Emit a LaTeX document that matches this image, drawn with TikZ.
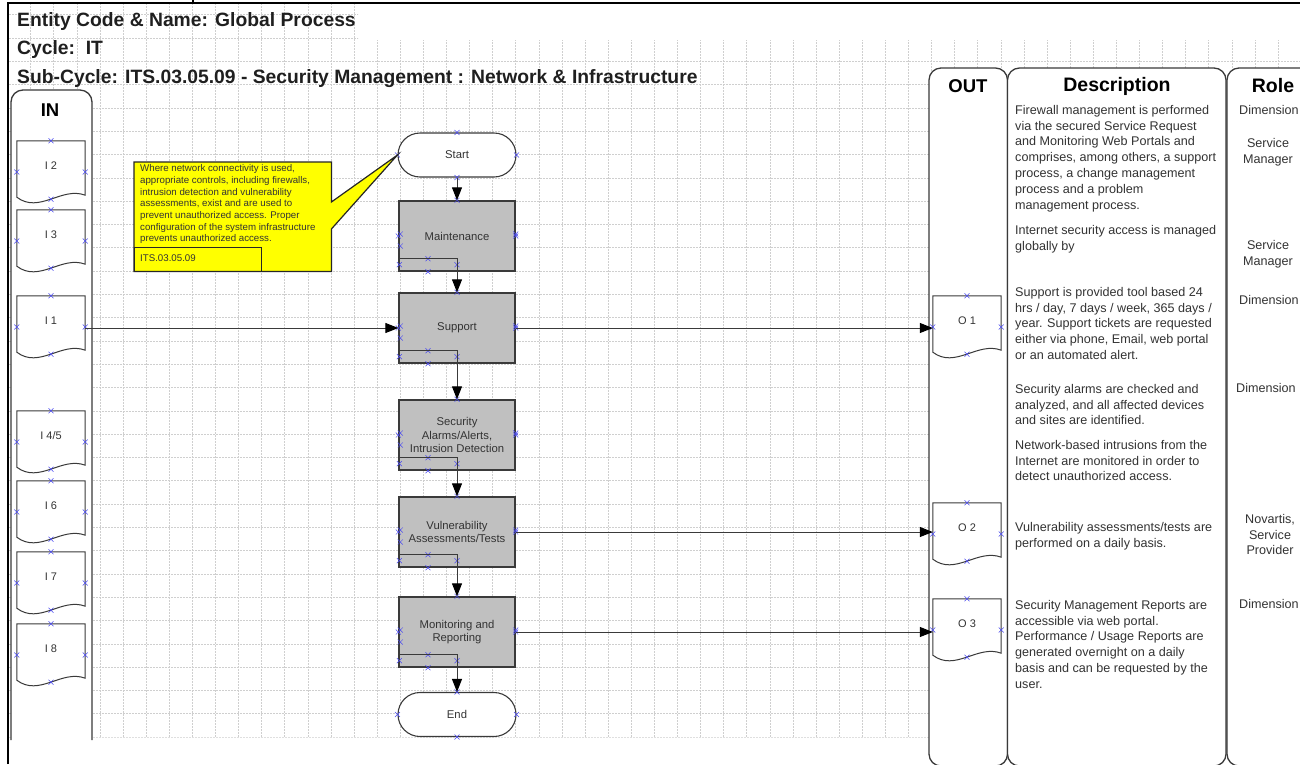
\documentclass[tikz,border=0pt]{standalone}
\usepackage{fontspec}
\setmainfont{Liberation Sans}
\usetikzlibrary{arrows.meta,calc}

\definecolor{txt}{HTML}{333333}
\definecolor{gridc}{HTML}{CFCFCF}
\definecolor{boxgrey}{HTML}{C0C0C0}
\definecolor{marker}{HTML}{4A4AF0}
\definecolor{noteyellow}{HTML}{FFFF00}
\definecolor{edge}{HTML}{3A3A3A}

\newcommand\fs[2]{\fontsize{#1}{#2}\selectfont}

% document shape with a wavy bottom edge: name, left x, top y, label
\newcommand\docshape[4]{%
  \node[docbox] (#1) at (#2+34,#3+28) {};
  \draw[docline] (#1.north west) -- (#1.south west)
    .. controls ($(#1.south west)+(22.4,17)$) and ($(#1.south west)+(44.9,-11)$) ..
    ($(#1.south east)+(0,-2)$) -- (#1.north east) -- cycle;
  \node[doclabel] (#1-lbl) at ($(#1.north)+(0,25)$) {#4};
  \path (#1.north) pic{xm} ($(#1.west)+(0,3)$) pic{xm}
        ($(#1.east)+(0,3)$) pic{xm} ($(#1.south)+(0,2)$) pic{xm};
}

% connection points of a process box, and its small corner frame
\newcommand\procmarks[1]{%
  \path (#1.north) pic{xm}
        (#1.west) pic{xm} ($(#1.west)+(2,-2)$) pic{xm} ($(#1.west)+(2,10)$) pic{xm}
        (#1.east) pic{xm} ($(#1.east)+(0,-2)$) pic{xm}
        ($(#1.south west)+(1,-7)$) pic{xm}
        ($(#1.south)+(-29,-13)$) pic{xm} ($(#1.south)+(-29,0)$) pic{xm}
        ($(#1.south)+(0,-7)$) pic{xm};
  \draw[inner] ($(#1.south west)+(0,-13)$) -| (#1.south);
}

\begin{document}
\begin{tikzpicture}[x=1pt,y=-1pt,
  gridline/.style={draw=gridc, line width=0.6pt, dash pattern=on 2pt off 1pt},
  frame/.style={draw=black, line width=1.4pt},
  lane/.style={draw=edge, line width=1.3pt, fill=white, rounded corners=12pt},
  lanehead/.style={font=\fs{18.5}{21}\bfseries, text=black, inner sep=0pt},
  headtext/.style={font=\fs{19.3}{22}\bfseries, text=black!88, anchor=base west, inner sep=0pt},
  docbox/.style={minimum width=68pt, minimum height=56pt, inner sep=0pt, draw=none},
  docline/.style={draw=edge, line width=1pt, fill=white},
  doclabel/.style={font=\fs{11}{13}, text=txt, inner sep=0pt},
  proc/.style={draw=edge, line width=1.3pt, fill=boxgrey, minimum width=116pt,
    minimum height=70pt, inner sep=2pt, align=center, font=\fs{11.3}{13.5}, text=txt},
  term/.style={draw=edge, line width=1.1pt, fill=white, minimum width=118pt,
    minimum height=44pt, rounded corners=22pt, font=\fs{11.3}{13.5}, text=txt},
  conn/.style={draw=edge, line width=1pt, -{Triangle[length=13pt,width=10pt,color=black]}},
  inner/.style={draw=edge, line width=1pt},
  desc/.style={font=\fs{12.6}{15.8}, text=txt, align=left, anchor=north west, inner sep=0pt},
  role/.style={font=\fs{12.6}{15.8}, text=txt, align=center, inner sep=0pt},
  xm/.pic={\draw[marker, line width=0.5pt] (-2.5,-2.5) -- (2.5,2.5) (-2.5,2.5) -- (2.5,-2.5);}
]
\useasboundingbox (0,0) rectangle (1300,764);
\fill[white] (0,0) rectangle (1300,764);

% drawing-page grid
\begin{scope}
  \clip (8,3) -- (358,3) -- (358,40) -- (1300,40) -- (1300,737.5) -- (8,737.5) -- cycle;
  \foreach \i in {0,...,56} {\draw[gridline] ({7.5+23.1*\i},0) -- ++(0,740);}
  \foreach \j in {0,...,32} {\draw[gridline] (0,{737-23.3*\j}) -- ++(1300,0);}
\end{scope}

% page frame
\draw[frame] (8,764) -- (8,3) -- (1300,3);
\draw[frame] (193,0) -- (193,3);

% header
\node[headtext] (entity) at (17,26) {Entity Code \& Name: Global Process};
\node[headtext] (cycle) at (17,54) {Cycle:\ \ IT};
\node[headtext] (subcycle) at (17,83) {Sub-Cycle: ITS.03.05.09 - Security Management : Network \& Infrastructure};

% swim lanes
\draw[lane] (11,740) -- (11,90) -- (92,90) -- (92,740);
\draw[lane] (929,766) -- (929,68) -- (1007.5,68) -- (1007.5,766) -- cycle;
\draw[lane] (1007.5,766) -- (1007.5,68) -- (1226,68) -- (1226,766) -- cycle;
\draw[lane] (1227,766) -- (1227,68) -- (1340,68) -- (1340,766) -- cycle;
\node[lanehead] (inhead) at (50,110) {IN};
\node[lanehead] (outhead) at (968,86) {OUT};
\node[lanehead, font=\fs{19.5}{22}\bfseries] (deschead) at (1117,86) {Description};
\node[lanehead, font=\fs{19.5}{22}\bfseries] (rolehead) at (1273,86) {Role};

% inputs
\docshape{I2}{17}{141}{I 2}
\docshape{I3}{17}{210}{I 3}
\docshape{I1}{17}{296}{I 1}
\docshape{I45}{17}{411}{I 4/5}
\docshape{I6}{17}{481}{I 6}
\docshape{I7}{17}{552}{I 7}
\docshape{I8}{17}{624}{I 8}

% outputs
\docshape{O1}{933}{296}{O 1}
\docshape{O2}{933}{503}{O 2}
\docshape{O3}{933}{599}{O 3}

% process flow
\node[term] (start) at (457,155) {Start};
\node[proc] (maint) at (457,236) {Maintenance};
\node[proc] (sup) at (457,328) {Support};
\node[proc] (sec) at (457,435) {Security\\Alarms/Alerts,\\Intrusion Detection};
\node[proc] (vul) at (457,532) {Vulnerability\\Assessments/Tests};
\node[proc] (mon) at (457,632) {Monitoring and\\Reporting};
\node[term] (end) at (457,714.5) {End};

\path (start.north) pic{xm} (start.west) pic{xm} (start.east) pic{xm} (start.south) pic{xm};
\path (end.north) pic{xm} (end.west) pic{xm} (end.east) pic{xm} (end.south) pic{xm};
\procmarks{maint}
\procmarks{sup}
\procmarks{sec}
\procmarks{vul}
\procmarks{mon}

% control note
\node[draw=none, minimum width=197pt, minimum height=109pt, inner sep=0pt, anchor=north west] (note) at (134,162) {};
\draw[draw=black!85, line width=1.2pt, fill=noteyellow]
  (note.north west) -- (note.north east) -- ($(note.north east)+(0,40)$) -- (start.west)
  -- ($(note.north east)+(0,67)$) -- (note.south east) -- (note.south west) -- cycle;
\node[font=\fs{9.7}{11.7}, text=txt, align=left, anchor=north west, inner sep=0pt] (notetext) at (140,164.5)
  {Where network connectivity is used,\\appropriate controls, including firewalls,\\intrusion detection and vulnerability\\assessments, exist and are used to\\prevent unauthorized access. Proper\\configuration of the system infrastructure\\prevents unauthorized access.};
\node[draw=black!85, line width=1.2pt, minimum width=127pt, minimum height=24pt, inner sep=0pt, anchor=north west] (noteref) at (134,247) {};
\node[font=\fs{9.7}{11.7}, text=txt, anchor=west, inner sep=0pt] (notereftext) at (140,258.5) {ITS.03.05.09};

% connectors
\draw[conn] (start.south) -- (maint.north);
\draw[conn] (maint.south) -- (sup.north);
\draw[conn] (sup.south) -- (sec.north);
\draw[conn] (sec.south) -- (vul.north);
\draw[conn] (vul.south) -- (mon.north);
\draw[conn] (mon.south) -- (end.north);
\draw[conn] (sup.west -| I1.east) -- (sup.west);
\draw[conn] (sup.east) -- (sup.east -| O1.west);
\draw[conn] (vul.east) -- (vul.east -| O2.west);
\draw[conn] (mon.east) -- (mon.east -| O3.west);

% descriptions
\node[desc] (d1) at (1015,105) {Firewall management is performed\\via the secured Service Request\\and Monitoring Web Portals and\\comprises, among others, a support\\process, a change management\\process and a problem\\management process.};
\node[desc] (d2) at (1015,225) {Internet security access is managed\\globally by};
\node[desc] (d3) at (1015,287) {Support is provided tool based 24\\hrs / day, 7 days / week, 365 days /\\year. Support tickets are requested\\either via phone, Email, web portal\\or an automated alert.};
\node[desc] (d4) at (1015,384) {Security alarms are checked and\\analyzed, and all affected devices\\and sites are identified.};
\node[desc] (d5) at (1015,440) {Network-based intrusions from the\\Internet are monitored in order to\\detect unauthorized access.};
\node[desc] (d6) at (1015,522) {Vulnerability assessments/tests are\\performed on a daily basis.};
\node[desc] (d7) at (1015,600) {Security Management Reports are\\accessible via web portal.\\Performance / Usage Reports are\\generated overnight on a daily\\basis and can be requested by the\\user.};

% roles
\node[role, anchor=north west] (r1) at (1239,105) {Dimension};
\node[role, anchor=north] (r2) at (1268,138) {Service\\Manager};
\node[role, anchor=north] (r3) at (1268,240) {Service\\Manager};
\node[role, anchor=north west] (r4) at (1239,295) {Dimension};
\node[role, anchor=north west] (r5) at (1236,383) {Dimension};
\node[role, anchor=north] (r6) at (1270,514) {Novartis,\\Service\\Provider};
\node[role, anchor=north west] (r7) at (1239,599) {Dimension};
\end{tikzpicture}
\end{document}
